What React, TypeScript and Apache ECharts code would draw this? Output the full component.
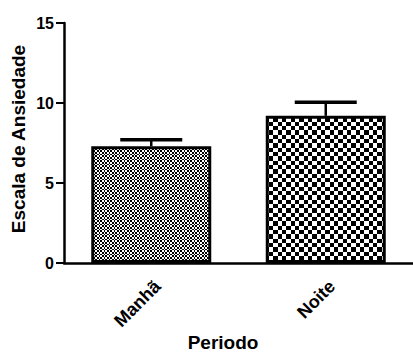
import React, { useEffect, useRef } from "react";
import * as echarts from "echarts";

const categories = ["Manhã", "Noite"];
const means = [7.3, 9.2];
const errors = [0.4, 0.85];
const yTicks = [0, 5, 10, 15];

const FONT = "'Liberation Sans', Arial, sans-serif";

// Checkerboard tile (six cells per side) painted pixel by pixel so the
// cell edges stay crisp even when the cell size is not a whole number.
function checker(tile: number) {
  const cell = tile / 6;
  const c = document.createElement("canvas");
  c.width = tile;
  c.height = tile;
  const ctx = c.getContext("2d")!;
  for (let y = 0; y < tile; y++) {
    for (let x = 0; x < tile; x++) {
      const on = (Math.floor(x / cell) + Math.floor(y / cell)) % 2 === 0;
      ctx.fillStyle = on ? "#000" : "#fff";
      ctx.fillRect(x, y, 1, 1);
    }
  }
  return {
    image: c,
    repeat: "repeat",
    imageWidth: tile,
    imageHeight: tile,
  } as any;
}

export default function App() {
  const ref = useRef<HTMLDivElement>(null);

  useEffect(() => {
    const chart = echarts.init(ref.current!, null, { renderer: "svg" });
    const patterns = [checker(10), checker(26)];

    chart.setOption({
      animation: false,
      grid: { left: 64, top: 23, bottom: 89, right: -9, containLabel: false },
      xAxis: {
        type: "category",
        data: categories,
        axisLine: { lineStyle: { color: "#000", width: 2.5 } },
        axisTick: { alignWithLabel: true, length: 5, lineStyle: { color: "#000", width: 2 } },
        axisLabel: {
          rotate: 45,
          margin: 14,
          align: "right",
          verticalAlign: "top",
          color: "#000",
          fontWeight: "bold",
          fontSize: 18,
          fontFamily: FONT,
        },
      },
      yAxis: {
        type: "value",
        min: 0,
        max: 15,
        interval: 5,
        splitLine: { show: false },
        axisLine: { show: true, lineStyle: { color: "#000", width: 2.5 } },
        axisTick: { show: true, length: 8, lineStyle: { color: "#000", width: 2 } },
        axisLabel: {
          margin: 10,
          color: "#000",
          fontWeight: "bold",
          fontSize: 16,
          fontFamily: FONT,
          formatter: (v: number) => (yTicks.includes(v) ? String(v) : ""),
        },
      },
      graphic: [
        {
          type: "text",
          x: 18.5,
          y: 139,
          rotation: Math.PI / 2,
          style: {
            text: "Escala de Ansiedade",
            fill: "#000",
            font: `bold 19px ${FONT}`,
            align: "center",
            verticalAlign: "middle",
          },
        },
        {
          type: "text",
          x: 223,
          y: 342,
          style: {
            text: "Periodo",
            fill: "#000",
            font: `bold 19px ${FONT}`,
            align: "center",
            verticalAlign: "middle",
          },
        },
      ],
      series: [
        {
          type: "bar",
          barWidth: 120,
          data: means.map((v, i) => ({
            value: v,
            itemStyle: { color: patterns[i], borderColor: "#000", borderWidth: 3 },
          })),
          z: 2,
        },
        {
          type: "custom",
          z: 3,
          data: means.map((m, i) => [i, m, errors[i]]),
          renderItem: (params: any, api: any) => {
            const idx = api.value(0);
            const m = api.value(1);
            const e = api.value(2);
            const base = api.coord([idx, m]);
            const top = api.coord([idx, m + e]);
            const half = 31;
            return {
              type: "group",
              children: [
                {
                  type: "line",
                  shape: { x1: base[0], y1: base[1], x2: top[0], y2: top[1] },
                  style: { stroke: "#000", lineWidth: 2.5 },
                },
                {
                  type: "line",
                  shape: { x1: top[0] - half, y1: top[1], x2: top[0] + half, y2: top[1] },
                  style: { stroke: "#000", lineWidth: 3.5 },
                },
              ],
            };
          },
        },
      ],
    });

    return () => chart.dispose();
  }, []);

  return (
    <div
      ref={ref}
      style={{ position: "fixed", left: 0, top: 0, width: 413, height: 352, background: "#fff" }}
    />
  );
}
